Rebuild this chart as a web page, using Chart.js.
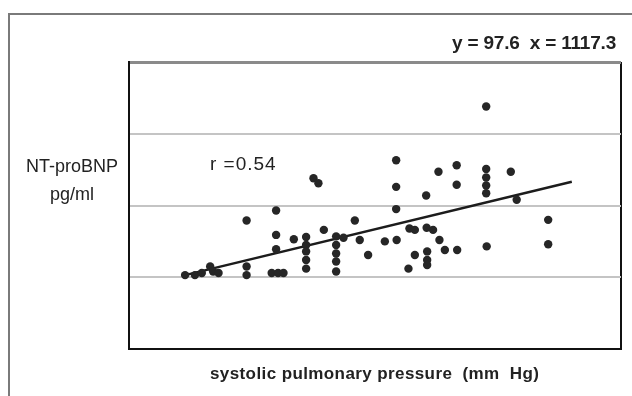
<!DOCTYPE html>
<html>
<head>
<meta charset="utf-8">
<script src="https://cdn.jsdelivr.net/npm/chart.js@4.4.0/dist/chart.umd.min.js"></script>
<style>
  html, body { margin: 0; padding: 0; background: #fff; }
  #wrap { position: relative; width: 632px; height: 396px; overflow: hidden; font-family: "Liberation Sans", Arial, sans-serif; color: #222; }
  #frame { position: absolute; left: 8px; top: 13px; width: 700px; height: 500px; border-left: 2px solid #7a7a7a; border-top: 2px solid #7a7a7a; }
  canvas { position: absolute; left: 0; top: 0; }
  .lbl { position: absolute; white-space: pre; }
  #eq { right: 16px; top: 32px; font-size: 19px; font-weight: bold; letter-spacing: -0.2px; }
  #ylab { left: 12px; width: 120px; top: 152px; font-size: 18px; line-height: 28px; text-align: center; }
  #rval { left: 210px; top: 153px; font-size: 19px; letter-spacing: 1px; }
  #xlab { left: 210px; top: 364px; font-size: 17px; font-weight: bold; letter-spacing: 0.4px; }
</style>
</head>
<body>
<div id="wrap">
  <div id="frame"></div>
  <canvas id="chart" width="632" height="396"></canvas>
  <div class="lbl" id="eq">y = 97.6  x = 1117.3</div>
  <div class="lbl" id="ylab">NT-proBNP
pg/ml</div>
  <div class="lbl" id="rval">r =0.54</div>
  <div class="lbl" id="xlab">systolic pulmonary pressure  (mm  Hg)</div>
</div>
<script>
// systolic pulmonary pressure (relative axis units, no ticks shown)
const pressure = [11.4, 13.4, 14.8, 16.5, 17.1, 18.2, 23.9, 23.9, 23.9, 29.9, 29.9, 29.9, 29.0, 30.3, 31.4, 33.5,
  36.0, 36.0, 36.0, 36.0, 36.0, 39.6, 42.1, 42.1, 42.1, 42.1, 42.1, 43.6, 45.9, 46.9, 48.6, 37.5, 38.5,
  52.0, 54.4, 54.3, 54.3, 54.3, 57.0, 58.1, 60.5, 61.8, 60.4, 62.9, 66.6, 66.6, 63.1, 64.2, 66.7, 58.1,
  60.6, 60.6, 60.6, 56.8, 72.6, 72.6, 72.6, 72.6, 72.6, 72.7, 77.6, 78.8, 85.2, 85.2];
// NT-proBNP
const ntprobnp = [1.03, 1.03, 1.06, 1.15, 1.08, 1.06, 1.15, 1.03, 1.79, 1.93, 1.59, 1.39, 1.06, 1.06, 1.06, 1.53,
  1.56, 1.45, 1.36, 1.24, 1.12, 1.66, 1.57, 1.45, 1.33, 1.22, 1.08, 1.55, 1.79, 1.52, 1.31, 2.38, 2.31,
  1.50, 1.52, 2.63, 2.26, 1.95, 1.68, 1.66, 1.69, 1.66, 2.14, 2.47, 2.56, 2.29, 1.52, 1.38, 1.38, 1.31,
  1.36, 1.24, 1.17, 1.12, 3.38, 2.51, 2.39, 2.28, 2.17, 1.43, 2.47, 2.08, 1.80, 1.46];
// regression line ends
const trendX = [11.4, 90.0];
const trendY = [1.03, 2.33];
// axis ranges
const xRange = [0, 100];
const yRange = [0, 4];

const points = pressure.map((x, i) => ({ x, y: ntprobnp[i] }));
const trend = trendX.map((x, i) => ({ x, y: trendY[i] }));

new Chart(document.getElementById('chart'), {
  type: 'scatter',
  data: {
    datasets: [
      {
        data: points,
        pointRadius: 4.2,
        pointBackgroundColor: '#262626',
        pointBorderWidth: 0
      },
      {
        type: 'line',
        data: trend,
        borderColor: '#1c1c1c',
        borderWidth: 2.5,
        pointRadius: 0
      }
    ]
  },
  options: {
    responsive: false,
    animation: false,
    layout: { padding: { left: 129, top: 62, right: 11, bottom: 47 } },
    scales: {
      x: {
        type: 'linear',
        min: xRange[0],
        max: xRange[1],
        ticks: { display: false, stepSize: 10 },
        grid: {
          drawTicks: false,
          color: c => c.tick.value === xRange[1] ? '#111' : 'rgba(0,0,0,0)',
          lineWidth: 2
        },
        border: { color: '#111', width: 2 }
      },
      y: {
        min: yRange[0],
        max: yRange[1],
        ticks: { display: false, stepSize: 1 },
        grid: {
          drawTicks: false,
          color: c => c.tick.value === yRange[1] ? '#8a8a8a' : (c.tick.value === yRange[0] ? 'rgba(0,0,0,0)' : '#c4c4c4'),
          lineWidth: c => c.tick.value === yRange[1] ? 3 : 2
        },
        border: { color: '#111', width: 2 }
      }
    },
    plugins: {
      legend: { display: false },
      tooltip: { enabled: false }
    }
  }
});
</script>
</body>
</html>
